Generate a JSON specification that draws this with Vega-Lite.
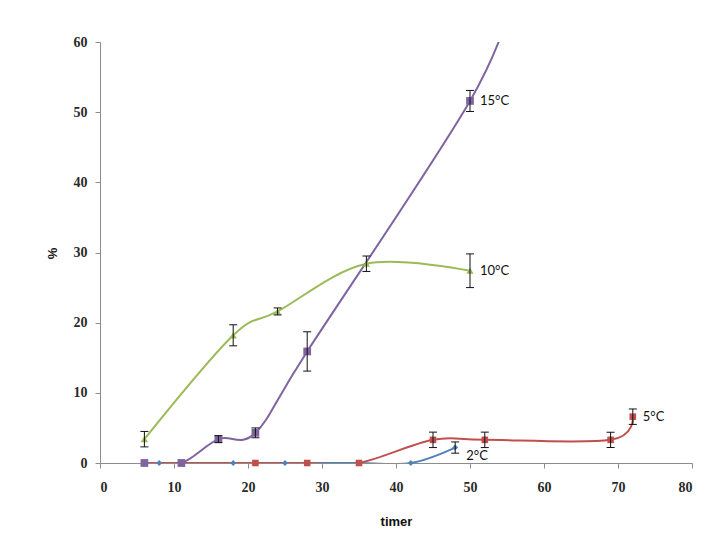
{
  "$schema": "https://vega.github.io/schema/vega-lite/v6.json",
  "width": 592,
  "height": 421,
  "autosize": {"type": "none"},
  "padding": {"left": 100, "top": 42, "right": 35, "bottom": 85},
  "background": "white",
  "config": {"view": {"stroke": null}},
  "data": {
    "values": [
      {"s": "2°C", "t": 6, "y": 0},
      {"s": "2°C", "t": 8, "y": 0},
      {"s": "2°C", "t": 18, "y": 0},
      {"s": "2°C", "t": 25, "y": 0},
      {"s": "2°C", "t": 35, "y": 0},
      {"s": "2°C", "t": 42, "y": 0},
      {"s": "2°C", "t": 48, "y": 2.2, "lo": 1.4, "hi": 3.0, "lab": "2°C"},
      {"s": "5°C", "t": 6, "y": 0},
      {"s": "5°C", "t": 11, "y": 0},
      {"s": "5°C", "t": 21, "y": 0},
      {"s": "5°C", "t": 28, "y": 0},
      {"s": "5°C", "t": 35, "y": 0},
      {"s": "5°C", "t": 45, "y": 3.3, "lo": 2.2, "hi": 4.4},
      {"s": "5°C", "t": 52, "y": 3.3, "lo": 2.2, "hi": 4.4},
      {"s": "5°C", "t": 69, "y": 3.3, "lo": 2.2, "hi": 4.4},
      {"s": "5°C", "t": 72, "y": 6.6, "lo": 5.5, "hi": 7.7, "lab": "5°C"},
      {"s": "10°C", "t": 6, "y": 3.4, "lo": 2.3, "hi": 4.5},
      {"s": "10°C", "t": 18, "y": 18.2, "lo": 16.7, "hi": 19.7},
      {"s": "10°C", "t": 24, "y": 21.6, "lo": 21.1, "hi": 22.1},
      {"s": "10°C", "t": 36, "y": 28.4, "lo": 27.3, "hi": 29.5},
      {"s": "10°C", "t": 50, "y": 27.4, "lo": 25.0, "hi": 29.8, "lab": "10°C"},
      {"s": "15°C", "t": 6, "y": 0},
      {"s": "15°C", "t": 11, "y": 0},
      {"s": "15°C", "t": 16, "y": 3.4, "lo": 2.9, "hi": 3.9},
      {"s": "15°C", "t": 21, "y": 4.3, "lo": 3.6, "hi": 5.0},
      {"s": "15°C", "t": 28, "y": 15.9, "lo": 13.1, "hi": 18.7},
      {"s": "15°C", "t": 50, "y": 51.6, "lo": 50.1, "hi": 53.1, "lab": "15°C"},
      {"s": "15°C", "t": 56, "y": 67}
    ]
  },
  "encoding": {
    "x": {
      "field": "t", "type": "quantitative",
      "scale": {"domain": [0, 80], "nice": false},
      "axis": {
        "values": [0, 10, 20, 30, 40, 50, 60, 70, 80],
        "grid": false, "domainColor": "#8c8c8c", "tickColor": "#8c8c8c", "tickSize": 5,
        "labelFont": "Liberation Serif", "labelFontWeight": "bold", "labelFontSize": 14, "labelColor": "#2a2a2a",
        "labelPadding": 12,
        "title": "timer", "titleFont": "Liberation Sans", "titleFontWeight": "bold", "titleFontSize": 13,
        "titleColor": "#111", "titleBaseline": "alphabetic", "titleY": 62
      }
    },
    "y": {
      "field": "y", "type": "quantitative",
      "scale": {"domain": [0, 60], "nice": false},
      "axis": {
        "values": [0, 10, 20, 30, 40, 50, 60],
        "grid": false, "domainColor": "#8c8c8c", "tickColor": "#8c8c8c", "tickSize": 5,
        "labelFont": "Liberation Serif", "labelFontWeight": "bold", "labelFontSize": 14, "labelColor": "#2a2a2a",
        "labelPadding": 8,
        "title": "%", "titleFont": "Liberation Sans", "titleFontWeight": "bold", "titleFontSize": 13,
        "titleColor": "#111", "titleX": -48, "titleY": 211, "titleAlign": "center", "titleBaseline": "middle", "titleAngle": -90
      }
    }
  },
  "layer": [
    {
      "mark": {"type": "line", "interpolate": "cardinal", "strokeWidth": 2, "clip": true},
      "encoding": {
        "color": {
          "field": "s", "type": "nominal",
          "scale": {"domain": ["2°C", "5°C", "10°C", "15°C"], "range": ["#4f81bd", "#c0504d", "#9bbb59", "#8064a2"]},
          "legend": null
        }
      }
    },
    {
      "transform": [{"filter": "datum.t <= 80 && datum.y <= 60"}],
      "mark": {"type": "point", "filled": true, "opacity": 1},
      "encoding": {
        "color": {"field": "s", "type": "nominal", "scale": {"domain": ["2°C", "5°C", "10°C", "15°C"], "range": ["#4f81bd", "#c0504d", "#9bbb59", "#8064a2"]}, "legend": null},
        "shape": {"field": "s", "type": "nominal", "scale": {"domain": ["2°C", "5°C", "10°C", "15°C"], "range": ["diamond", "square", "triangle-up", "square"]}, "legend": null},
        "size": {"field": "s", "type": "nominal", "scale": {"domain": ["2°C", "5°C", "10°C", "15°C"], "range": [35, 60, 40, 50]}, "legend": null}
      }
    },
    {
      "transform": [{"filter": "isValid(datum.lo)"}],
      "mark": {"type": "rule", "color": "#111", "strokeWidth": 1},
      "encoding": {"y": {"field": "lo", "type": "quantitative"}, "y2": {"field": "hi"}}
    },
    {
      "transform": [{"filter": "isValid(datum.lo)"}],
      "mark": {"type": "tick", "orient": "horizontal", "color": "#111", "size": 8, "thickness": 1, "opacity": 1},
      "encoding": {"y": {"field": "lo", "type": "quantitative"}}
    },
    {
      "transform": [{"filter": "isValid(datum.lo)"}],
      "mark": {"type": "tick", "orient": "horizontal", "color": "#111", "size": 8, "thickness": 1, "opacity": 1},
      "encoding": {"y": {"field": "hi", "type": "quantitative"}}
    },
    {
      "transform": [{"filter": "isValid(datum.lab) && datum.lab != '2°C'"}],
      "mark": {"type": "text", "align": "left", "baseline": "middle", "dx": 10, "font": "Lato", "fontSize": 13, "color": "#111"},
      "encoding": {"text": {"field": "lab"}}
    },
    {
      "transform": [{"filter": "datum.lab == '2°C'"}],
      "mark": {"type": "text", "align": "left", "baseline": "middle", "dx": 11, "dy": 8, "font": "Lato", "fontSize": 13, "color": "#111"},
      "encoding": {"text": {"field": "lab"}}
    }
  ]
}
